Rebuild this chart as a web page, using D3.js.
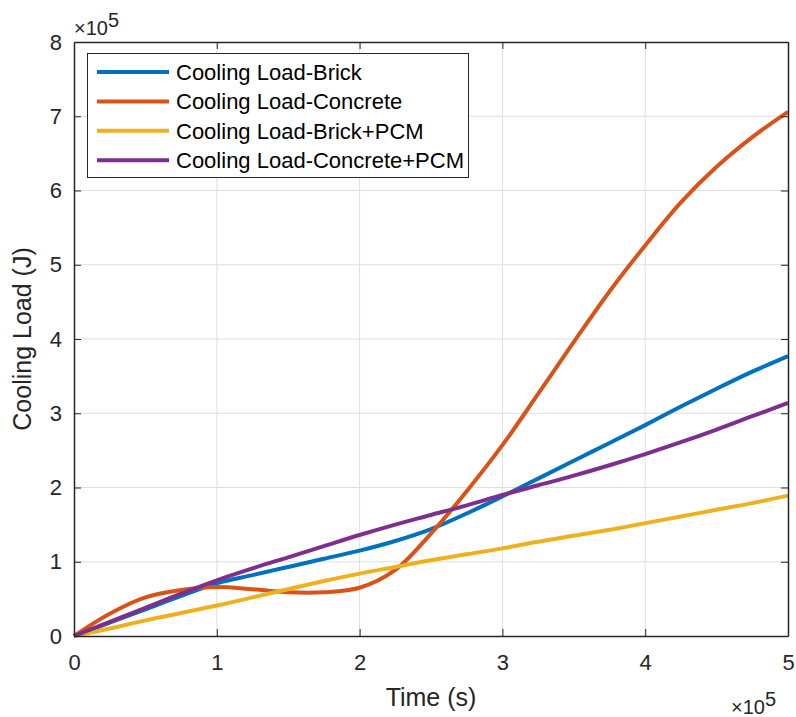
<!DOCTYPE html>
<html>
<head>
<meta charset="utf-8">
<script src="https://cdn.jsdelivr.net/npm/d3@7"></script>
<style>
  html, body { margin: 0; padding: 0; background: #fff; }
  svg { display: block; font-family: "Liberation Sans", Arial, sans-serif; }
</style>
</head>
<body>
<div id="chart"></div>
<script>
// data, in units of 1e5 (time) and 1e5 (J)
const time = [0, 0.25, 0.5, 0.75, 1, 1.25, 1.5, 1.75, 2, 2.25, 2.5, 2.75, 3, 3.25, 3.5, 3.75, 4, 4.25, 4.5, 4.75, 5];

const brick        = [0, 0.18, 0.36, 0.54, 0.71, 0.82, 0.93, 1.04, 1.15, 1.28, 1.44, 1.65, 1.88, 2.12, 2.36, 2.60, 2.84, 3.09, 3.33, 3.56, 3.77];
const concrete     = [0, 0.30, 0.52, 0.62, 0.66, 0.63, 0.59, 0.59, 0.65, 0.89, 1.38, 1.95, 2.57, 3.26, 3.96, 4.64, 5.26, 5.84, 6.32, 6.72, 7.06];
const brickPCM     = [0, 0.10, 0.21, 0.31, 0.41, 0.52, 0.63, 0.74, 0.84, 0.93, 1.02, 1.10, 1.18, 1.27, 1.35, 1.43, 1.52, 1.61, 1.70, 1.79, 1.89];
const concretePCM  = [0, 0.19, 0.38, 0.57, 0.75, 0.91, 1.06, 1.21, 1.36, 1.50, 1.63, 1.76, 1.90, 2.03, 2.16, 2.30, 2.45, 2.61, 2.78, 2.96, 3.14];

const seriesNames  = ['Cooling Load-Brick', 'Cooling Load-Concrete', 'Cooling Load-Brick+PCM', 'Cooling Load-Concrete+PCM'];
const seriesValues = [brick, concrete, brickPCM, concretePCM];
const seriesColors = ['#0072BD', '#D95319', '#EDB120', '#7E2F8E'];

const xTicks = [0, 1, 2, 3, 4, 5];
const yTicks = [0, 1, 2, 3, 4, 5, 6, 7, 8];

const width = 796, height = 717;
const margin = { left: 74, right: 8, top: 42, bottom: 81 };

const svg = d3.select('#chart').append('svg')
  .attr('width', width)
  .attr('height', height)
  .attr('viewBox', [0, 0, width, height]);

svg.append('rect').attr('width', width).attr('height', height).attr('fill', '#fff');

const x = d3.scaleLinear().domain([0, 5]).range([margin.left, width - margin.right]);
const y = d3.scaleLinear().domain([0, 8]).range([height - margin.bottom, margin.top]);

const axisColor = '#262626';

// grid
const grid = svg.append('g').attr('id', 'grid')
  .attr('stroke', '#dedede').attr('stroke-width', 1);
grid.selectAll('line.gx').data(xTicks.slice(1, -1)).join('line')
  .attr('x1', d => x(d)).attr('x2', d => x(d))
  .attr('y1', y(0)).attr('y2', y(8));
grid.selectAll('line.gy').data(yTicks.slice(1, -1)).join('line')
  .attr('x1', x(0)).attr('x2', x(5))
  .attr('y1', d => y(d)).attr('y2', d => y(d));

// lines
const line = d3.line()
  .x((d, i) => x(time[i]))
  .y(d => y(d))
  .curve(d3.curveCatmullRom.alpha(0.5));

svg.append('g').attr('id', 'series')
  .attr('fill', 'none')
  .attr('stroke-width', 4)
  .attr('stroke-linejoin', 'round')
  .selectAll('path')
  .data(seriesValues)
  .join('path')
  .attr('stroke', (d, i) => seriesColors[i])
  .attr('d', line);

// axes (box with inward ticks)
const tickLen = 7;
const axes = svg.append('g').attr('id', 'axes');

axes.append('g')
  .attr('transform', `translate(0,${y(0)})`)
  .call(d3.axisBottom(x).tickValues(xTicks).tickSizeInner(-tickLen).tickSizeOuter(0).tickPadding(18).tickFormat(d3.format('d')));
axes.append('g')
  .attr('transform', `translate(0,${y(8)})`)
  .call(d3.axisTop(x).tickValues(xTicks).tickSizeInner(-tickLen).tickSizeOuter(0).tickFormat(''));
axes.append('g')
  .attr('transform', `translate(${x(0)},0)`)
  .call(d3.axisLeft(y).tickValues(yTicks).tickSizeInner(-tickLen).tickSizeOuter(0).tickPadding(12).tickFormat(d3.format('d')));
axes.append('g')
  .attr('transform', `translate(${x(5)},0)`)
  .call(d3.axisRight(y).tickValues(yTicks).tickSizeInner(-tickLen).tickSizeOuter(0).tickFormat(''));

axes.selectAll('.domain').attr('stroke', axisColor).attr('stroke-width', 1.5);
axes.selectAll('.tick line').attr('stroke', axisColor).attr('stroke-width', 1);
axes.selectAll('.tick text')
  .attr('fill', axisColor)
  .attr('font-family', '"Liberation Sans", Arial, sans-serif')
  .attr('font-size', 22);

// axis labels
svg.append('text')
  .attr('x', (x(0) + x(5)) / 2).attr('y', 706)
  .attr('text-anchor', 'middle')
  .attr('fill', axisColor).attr('font-size', 25)
  .text('Time (s)');

svg.append('text')
  .attr('transform', `translate(31,${(y(0) + y(8)) / 2}) rotate(-90)`)
  .attr('text-anchor', 'middle')
  .attr('fill', axisColor).attr('font-size', 25)
  .text('Cooling Load (J)');

// exponent labels
function exponent(g, px, py) {
  const t = g.append('text').attr('x', px).attr('y', py)
    .attr('fill', axisColor).attr('font-size', 20);
  t.append('tspan').text('\u00d710');
  t.append('tspan').attr('dy', -8).text('5');
}
exponent(svg, 74, 35);
exponent(svg, 731, 714);

// legend
const legend = svg.append('g').attr('id', 'legend');
legend.append('rect')
  .attr('x', 87.5).attr('y', 53.5)
  .attr('width', 381).attr('height', 124)
  .attr('fill', '#fff')
  .attr('stroke', axisColor).attr('stroke-width', 1);

const rows = legend.selectAll('g.row').data(seriesNames).join('g')
  .attr('transform', (d, i) => `translate(0,${72 + i * 29.4})`);
rows.append('line')
  .attr('x1', 97).attr('x2', 169)
  .attr('stroke', (d, i) => seriesColors[i])
  .attr('stroke-width', 4);
rows.append('text')
  .attr('x', 176).attr('dy', '0.35em')
  .attr('fill', '#000').attr('font-size', 22)
  .text(d => d);
</script>
</body>
</html>
